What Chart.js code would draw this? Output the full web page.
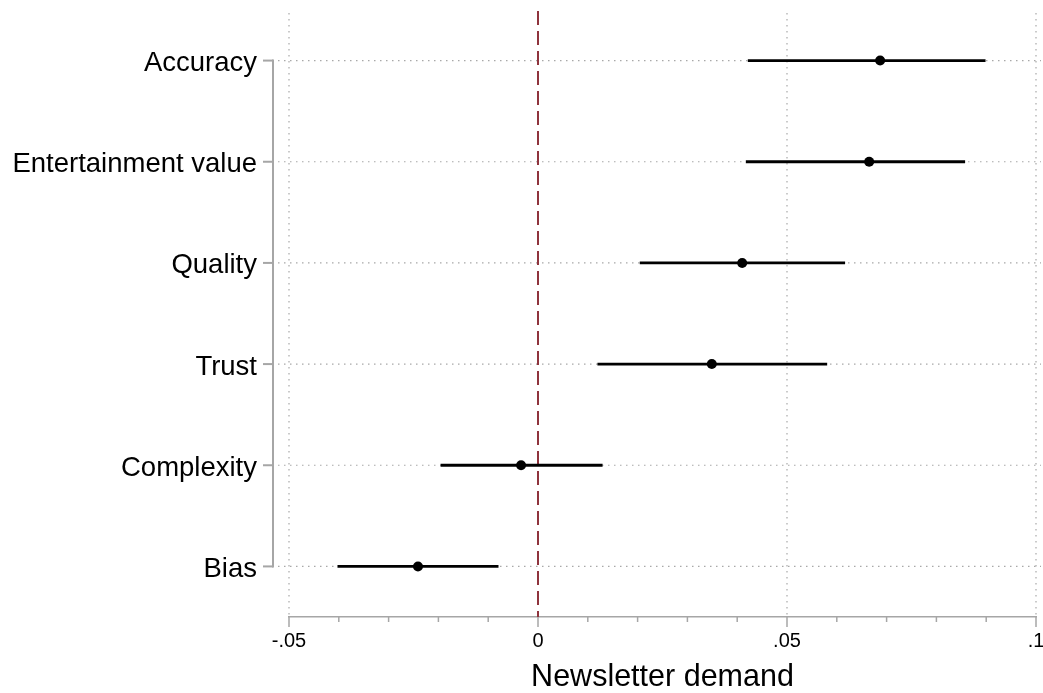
<!DOCTYPE html>
<html>
<head>
<meta charset="utf-8">
<script src="https://cdn.jsdelivr.net/npm/chart.js@4"></script>
<style>
  body { margin: 0; background: #fff; }
  #wrap { width: 1043px; height: 693px; }
</style>
</head>
<body>
<div id="wrap"><canvas id="coef"></canvas></div>
<script>
// categories and coefficient estimates with 95% CI
const categories = ['Accuracy', 'Entertainment value', 'Quality', 'Trust', 'Complexity', 'Bias'];
const estimates = [0.0687, 0.0665, 0.0410, 0.0349, -0.0034, -0.0241];
const lower = [0.0422, 0.0418, 0.0205, 0.0120, -0.0195, -0.0402];
const upper = [0.0898, 0.0857, 0.0616, 0.0580, 0.0129, -0.0080];

// x axis ticks
const xTickValues = [-0.05, 0, 0.05, 0.1];
const xTickLabels = ['-.05', '0', '.05', '.1'];
const xMinorTicks = [-0.04, -0.03, -0.02, -0.01, 0.01, 0.02, 0.03, 0.04, 0.06, 0.07, 0.08, 0.09];
const refLine = 0;

Chart.defaults.font.family = '"Liberation Sans", Arial, sans-serif';
Chart.defaults.color = '#000';

//grid, reference line, y axis and tick marks drawn from the scales
const decor = {
  id: 'decor',
  beforeDatasetsDraw(chart) {
    const ctx = chart.ctx;
    const a = chart.chartArea;
    const x = chart.scales.x, y = chart.scales.y;
    const line = (x1, y1, x2, y2) => {
      ctx.beginPath(); ctx.moveTo(x1, y1); ctx.lineTo(x2, y2); ctx.stroke();
    };
    ctx.save();
    // dotted grid
    ctx.strokeStyle = '#a8a8a8';
    ctx.lineWidth = 1.2;
    ctx.setLineDash([1.5, 4.5]);
    xTickValues.forEach(v => {
      if (v === refLine) return;
      const px = x.getPixelForValue(v);
      line(px, a.top + 3, px, a.bottom);
    });
    categories.forEach((c, i) => {
      const py = y.getPixelForValue(i);
      line(a.left - 11, py, a.right + 5, py);
    });
    // reference line at zero
    ctx.setLineDash([14, 6]);
    ctx.strokeStyle = '#8f343d';
    ctx.lineWidth = 2;
    const zx = x.getPixelForValue(refLine);
    line(zx, a.top + 1, zx, a.bottom);
    // y axis line + ticks
    ctx.setLineDash([]);
    ctx.strokeStyle = '#a6a6a6';
    ctx.lineWidth = 2;
    const ax = a.left - 16;
    line(ax, y.getPixelForValue(0) - 1, ax, y.getPixelForValue(categories.length - 1) + 1);
    categories.forEach((c, i) => {
      const py = y.getPixelForValue(i);
      line(ax - 10, py, ax, py);
    });
    // x axis ticks, major and minor
    ctx.lineWidth = 1.5;
    xTickValues.forEach(v => {
      const px = x.getPixelForValue(v);
      line(px, a.bottom, px, a.bottom + 10);
    });
    xMinorTicks.forEach(v => {
      const px = x.getPixelForValue(v);
      line(px, a.bottom, px, a.bottom + 5);
    });
    ctx.restore();
  }
};

let coefChart = new Chart(document.getElementById('coef'), {
  type: 'bar',
  data: {
    labels: categories,
    datasets: [{
      label: 'CI',
      data: categories.map((c, i) => [lower[i], upper[i]]),
      backgroundColor: '#000',
      borderWidth: 0,
      barThickness: 2.2,
      order: 2
    }, {
      type: 'scatter',
      label: 'Estimate',
      data: categories.map((c, i) => ({x: estimates[i], y: c})),
      backgroundColor: '#000',
      borderWidth: 0,
      pointRadius: 5,
      showLine: false,
      order: 1
    }]
  },
  options: {
    indexAxis: 'y',
    responsive: true,
    maintainAspectRatio: false,
    animation: false,
    layout: { padding: { left: 0, right: 7, top: 10, bottom: 0 } },
    plugins: {
      legend: { display: false },
      tooltip: { enabled: false }
    },
    scales: {
      x: {
        type: 'linear',
        min: -0.05,
        max: 0.1,
        afterBuildTicks: (scale) => {
          scale.ticks = xTickValues.map(v => ({ value: v }));
        },
        afterFit: (scale) => {
          scale.height = 76;
          scale.paddingLeft = 0;
          scale.paddingRight = 0;
        },
        ticks: {
          autoSkip: false,
          maxRotation: 0,
          padding: 12,
          font: { size: 20 },
          callback: (v, i) => xTickLabels[i]
        },
        grid: { display: false, drawTicks: false },
        border: { display: true, color: '#a6a6a6', width: 1.5 },
        title: {
          display: true,
          text: 'Newsletter demand',
          font: { size: 30.5 },
          padding: { top: 0, bottom: -3 }
        }
      },
      y: {
        type: 'category',
        afterFit: (scale) => {
          scale.width = 289;
          scale.paddingTop = 0;
          scale.paddingBottom = 0;
        },
        ticks: {
          padding: 32,
          labelOffset: 3,
          font: { size: 27.5 }
        },
        grid: { display: false, drawTicks: false },
        border: { display: false }
      }
    }
  },
  plugins: [decor]
});
</script>
</body>
</html>
